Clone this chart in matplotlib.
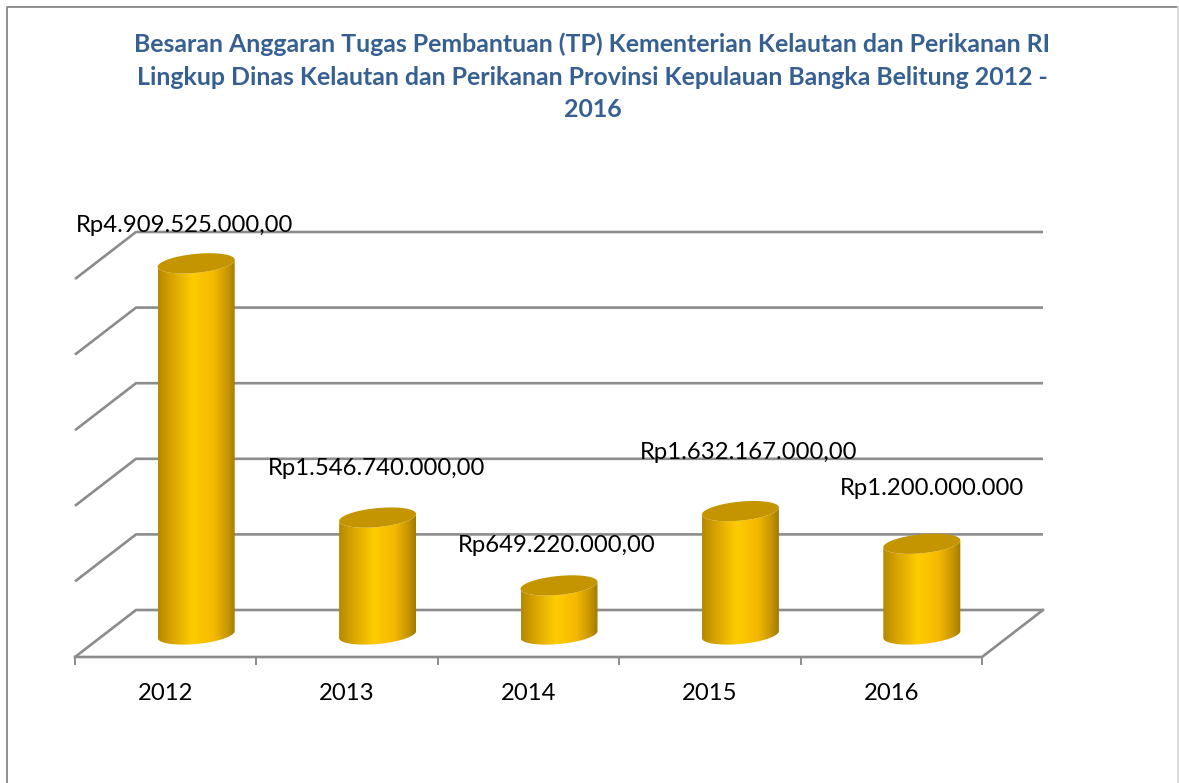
import numpy as np
import matplotlib
matplotlib.use('Agg')
import matplotlib.pyplot as plt
from matplotlib.colors import LinearSegmentedColormap
from matplotlib.patches import Polygon

W, H = 1179, 783

years = ['2012', '2013', '2014', '2015', '2016']
values = [4909525000, 1546740000, 649220000, 1632167000, 1200000000]
labels = ['Rp4.909.525.000,00', 'Rp1.546.740.000,00', 'Rp649.220.000,00',
          'Rp1.632.167.000,00', 'Rp1.200.000.000']
grid_values = [0, 1e9, 2e9, 3e9, 4e9, 5e9]
title = ('Besaran Anggaran Tugas Pembantuan (TP) Kementerian Kelautan dan Perikanan RI\n'
         'Lingkup Dinas Kelautan dan Perikanan Provinsi Kepulauan Bangka Belitung 2012 -\n'
         '2016')

# label offsets from the top of each bar, in pixels
label_dx = [-12, -1, -2, 8, 10]
label_dy = [37, 48, 39, 58, 54]

GRID = '#8c8c8c'
gold = LinearSegmentedColormap.from_list(
    'gold', [(0, '#b58900'), (0.18, '#d9a400'), (0.45, '#ffcc00'),
             (0.72, '#f5b800'), (0.9, '#c79500'), (1, '#a07a00')])
CAP = '#c49500'

plt.rcParams['font.family'] = ['Lato', 'DejaVu Sans']

fig = plt.figure(figsize=(W / 100, H / 100), dpi=100)
fig.patch.set_facecolor('white')

# front plane of the 3d box: x 75-982, y 657-279 in pixels
ax = fig.add_axes([75 / W, 1 - 657 / H, 907 / W, 378 / H])
ax.axis('off')

px = 5 / 907
py = 5e9 / 378
DEPTH_X, DEPTH_Y = 61 * px, 47 * py


def draw_grid():
    for v in grid_values:
        xs = [0, DEPTH_X, 5 + DEPTH_X]
        ys = [v, v + DEPTH_Y, v + DEPTH_Y]
        ax.plot(xs, ys, color=GRID, lw=1.9, clip_on=False, solid_capstyle='butt', zorder=1)
    ax.plot([0, 5, 5 + DEPTH_X], [0, 0, DEPTH_Y], color=GRID, lw=1.9, clip_on=False, zorder=1)
    for i in range(6):
        ax.plot([i, i], [0, -7 * py], color=GRID, lw=1.4, clip_on=False, zorder=1)


def ellipse(cx, cy, t):
    # flattened, slightly sheared circle (3d rotated look)
    return cx + 38.5 * px * np.cos(t), cy + (9.5 * np.sin(t) + 3.5 * np.cos(t)) * py


def draw_cylinder(i, v):
    cx = i + 0.5 + DEPTH_X / 2
    base = DEPTH_Y / 2 - 1 * py
    top = base + v
    t_low = np.linspace(np.pi, 2 * np.pi, 60)
    xb, yb = ellipse(cx, base, t_low)
    xt, yt = ellipse(cx, top, t_low[::-1])
    body = Polygon(np.column_stack([np.r_[xb, xt], np.r_[yb, yt]]), closed=True,
                   transform=ax.transData, facecolor='none', edgecolor='none')
    ax.add_patch(body)
    grad = np.linspace(0, 1, 256).reshape(1, -1)
    im = ax.imshow(grad, cmap=gold, aspect='auto', zorder=3,
                   extent=[cx - 38.5 * px, cx + 38.5 * px, base - 12 * py, top + 12 * py])
    im.set_clip_box(fig.bbox)
    im.set_clip_path(body)
    t = np.linspace(0, 2 * np.pi, 120)
    xc, yc = ellipse(cx, top, t)
    ax.add_patch(Polygon(np.column_stack([xc, yc]), closed=True, facecolor=CAP,
                         edgecolor='none', zorder=4, clip_on=False))


draw_grid()
for i, v in enumerate(values):
    draw_cylinder(i, v)
ax.set_xlim(0, 5)
ax.set_ylim(0, 5e9)

for i, (v, lab) in enumerate(zip(values, labels)):
    ax.text(i + 0.5 + DEPTH_X / 2 + label_dx[i] * px, v + DEPTH_Y / 2 + label_dy[i] * py, lab,
            ha='center', va='center', fontsize=17.2, color='black', zorder=5, clip_on=False)

for i, y in enumerate(years):
    ax.text(i + 0.5, -36 * py, y, ha='center', va='center', fontsize=17.2, color='black')

fig.text(592.5 / W, 1 - 77 / H, title, ha='center', va='center', fontsize=17.9, fontweight='bold',
         color='#376092', linespacing=1.5)

# chart frame, no bottom edge in the crop
fig.add_artist(plt.Line2D([6.5 / W, 6.5 / W, 1178 / W], [0, 1 - 6.5 / H, 1 - 6.5 / H],
                          color='#868686', lw=1.3))
fig.add_artist(plt.Line2D([1178 / W, 1178 / W], [0, 1 - 6.5 / H], color='#d9d9d9', lw=1.3))

fig.savefig('out.png', dpi=100)
